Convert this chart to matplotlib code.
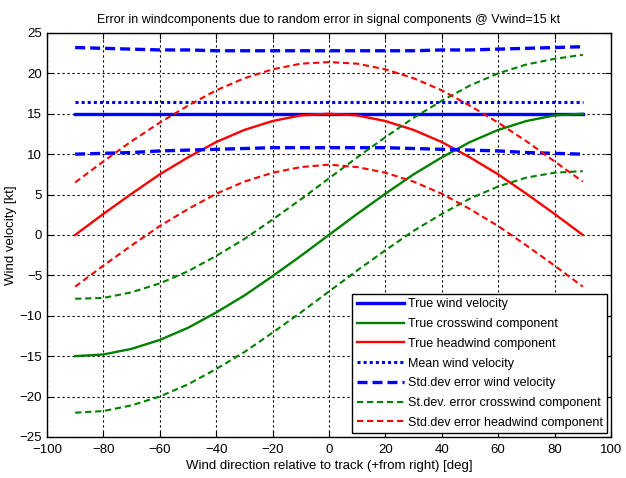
import matplotlib
matplotlib.use('Agg')
import matplotlib.pyplot as plt

# wind direction relative to track [deg]
angle = [-90, -80, -70, -60, -50, -40, -30, -20, -10, 0,
         10, 20, 30, 40, 50, 60, 70, 80, 90]

true_wind = [15.0] * 19
cross = [-15.0, -14.8, -14.1, -13.0, -11.5, -9.6, -7.5, -5.1, -2.6, 0.0,
         2.6, 5.1, 7.5, 9.6, 11.5, 13.0, 14.1, 14.8, 15.0]
head = [0.0, 2.6, 5.1, 7.5, 9.6, 11.5, 13.0, 14.1, 14.8, 15.0,
        14.8, 14.1, 13.0, 11.5, 9.6, 7.5, 5.1, 2.6, 0.0]
mean_wind = [16.5] * 19

wind_hi = [23.2, 23.1, 23.0, 22.9, 22.9, 22.8, 22.8, 22.8, 22.8, 22.8,
           22.8, 22.8, 22.8, 22.9, 22.9, 23.0, 23.1, 23.2, 23.3]
wind_lo = [10.0, 10.1, 10.2, 10.4, 10.5, 10.6, 10.7, 10.8, 10.8, 10.8,
           10.8, 10.8, 10.7, 10.6, 10.5, 10.4, 10.2, 10.1, 10.0]
cross_hi = [-7.9, -7.8, -7.1, -6.0, -4.5, -2.6, -0.5, 1.9, 4.4, 7.0,
            9.6, 12.1, 14.5, 16.6, 18.5, 20.0, 21.1, 21.8, 22.3]
cross_lo = [-22.0, -21.8, -21.1, -20.0, -18.5, -16.6, -14.5, -12.1, -9.6, -7.0,
            -4.4, -1.9, 0.5, 2.6, 4.5, 6.0, 7.1, 7.7, 7.9]
head_hi = [6.5, 9.1, 11.6, 13.9, 16.0, 17.9, 19.4, 20.5, 21.2, 21.4,
           21.2, 20.5, 19.4, 17.9, 16.0, 13.9, 11.6, 9.1, 6.6]
head_lo = [-6.4, -3.8, -1.3, 1.1, 3.2, 5.1, 6.6, 7.7, 8.4, 8.7,
           8.4, 7.7, 6.6, 5.1, 3.2, 1.1, -1.3, -3.8, -6.4]

plt.rcParams['font.family'] = ['Liberation Sans', 'DejaVu Sans']

fig = plt.figure(figsize=(6.26, 4.78), dpi=100)
ax = fig.add_axes([0.075, 0.086, 0.901, 0.845])

blue, green, red = '#0000ff', '#008000', '#ff0000'
ax.plot(angle, true_wind, color=blue, lw=2.4, label='True wind velocity')
ax.plot(angle, cross, color=green, lw=1.7, label='True crosswind component')
ax.plot(angle, head, color=red, lw=1.7, label='True headwind component')
ax.plot(angle, mean_wind, color=blue, lw=2.2, ls=(0, (1, 1)), label='Mean wind velocity')
ax.plot(angle, wind_hi, color=blue, lw=2.4, ls=(0, (3, 1.5)), label='Std.dev error wind velocity')
ax.plot(angle, wind_lo, color=blue, lw=2.4, ls=(0, (3, 1.5)))
ax.plot(angle, cross_hi, color=green, lw=1.5, ls=(0, (3, 1.8)), label='St.dev. error crosswind component')
ax.plot(angle, cross_lo, color=green, lw=1.5, ls=(0, (3, 1.8)))
ax.plot(angle, head_hi, color=red, lw=1.5, ls=(0, (3, 1.8)), label='Std.dev error headwind component')
ax.plot(angle, head_lo, color=red, lw=1.5, ls=(0, (3, 1.8)))

ax.set_xlim(-100, 100)
ax.set_ylim(-25, 25)
ax.set_xticks(range(-100, 101, 20))
ax.set_yticks(range(-25, 26, 5))
ax.grid(True, color='black', ls=(0, (2, 2.5)), lw=0.8)
ax.tick_params(direction='in', top=True, right=True, labelsize=9.5, length=4)
ax.tick_params(axis='x', pad=5)
for s in ax.spines.values():
    s.set_linewidth(1.0)

ax.set_title('Error in windcomponents due to random error in signal components @ Vwind=15 kt',
             fontsize=9, pad=7)
ax.set_xlabel('Wind direction relative to track (+from right) [deg]', fontsize=9.5, labelpad=3)
ax.set_ylabel('Wind velocity [kt]', fontsize=9.5, labelpad=2)

leg = ax.legend(loc='lower right', fontsize=9, frameon=True, fancybox=False,
                edgecolor='black', framealpha=1, handlelength=3.8,
                borderaxespad=0.3, labelspacing=0.62, handletextpad=0.3, borderpad=0.35)
leg.get_frame().set_linewidth(1.0)

fig.savefig('out.png', dpi=100)
